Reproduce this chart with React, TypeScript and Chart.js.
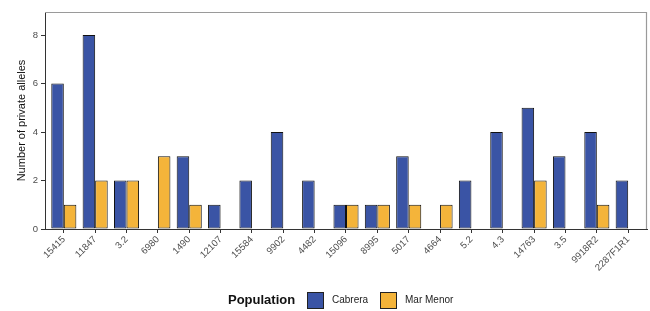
import React, { useEffect, useRef } from "react";
import { Chart, registerables } from "chart.js";

Chart.register(...registerables);

const categories = ["15415", "11847", "3.2", "6980", "1490", "12107", "15584", "9902", "4482", "15096", "8995", "5017", "4664", "5.2", "4.3", "14763", "3.5", "9918R2", "2287F1R1"];
const cabrera: (number | null)[] = [6, 8, 2, null, 3, 1, 2, 4, 2, 1, 1, 3, null, 2, 4, 5, 3, 4, 2];
const marMenor: (number | null)[] = [1, 2, 2, 3, 1, null, null, null, null, 1, 1, 1, 1, null, null, 2, null, 1, null];
const yTicks = [0, 2, 4, 6, 8];

const BLUE = "#3A54A5";
const ORANGE = "#F4B43A";
const FONT = "'Liberation Sans', Arial, sans-serif";

const framePlugin = {
  id: "frameAndLegend",
  afterDraw(chart: any) {
    const { ctx, chartArea } = chart;
    ctx.save();
    // gray top & right border
    ctx.strokeStyle = "#9a9a9a";
    ctx.lineWidth = 1.2;
    ctx.beginPath();
    ctx.moveTo(chartArea.left, chartArea.top + 0.5);
    ctx.lineTo(chartArea.right - 0.5, chartArea.top + 0.5);
    ctx.lineTo(chartArea.right - 0.5, chartArea.bottom);
    ctx.stroke();
    // y title
    ctx.fillStyle = "#111";
    ctx.font = `11px ${FONT}`;
    ctx.textAlign = "center";
    ctx.textBaseline = "middle";
    ctx.translate(22, (chartArea.top + chartArea.bottom) / 2);
    ctx.rotate(-Math.PI / 2);
    ctx.fillText("Number of private alleles", 0, 0);
    ctx.restore();

    // legend
    ctx.save();
    const cy = 300;
    ctx.textBaseline = "middle";
    ctx.textAlign = "left";
    ctx.fillStyle = "#111";
    ctx.font = `bold 13px ${FONT}`;
    ctx.fillText("Population", 228, cy);
    const items = [
      { label: "Cabrera", color: BLUE, x: 307 },
      { label: "Mar Menor", color: ORANGE, x: 380 },
    ];
    for (const it of items) {
      ctx.fillStyle = it.color;
      ctx.fillRect(it.x, cy - 8, 17, 17);
      ctx.strokeStyle = "#222";
      ctx.lineWidth = 1;
      ctx.strokeRect(it.x + 0.5, cy - 7.5, 16, 16);
      ctx.fillStyle = "#222";
      ctx.font = `10px ${FONT}`;
      ctx.fillText(it.label, it.x + 25, cy + 0.5);
    }
    ctx.restore();
  },
};

export default function App() {
  const ref = useRef<HTMLCanvasElement | null>(null);

  useEffect(() => {
    if (!ref.current) return;
    const toPts = (arr: (number | null)[]) => arr.map((v, i) => ({ x: i, y: v }));
    const chart = new Chart(ref.current, {
      type: "bar",
      data: {
        datasets: [
          {
            label: "Cabrera",
            data: toPts(cabrera) as any,
            backgroundColor: BLUE,
            borderColor: "#111",
            borderWidth: 1,
            borderSkipped: false,
            categoryPercentage: 0.8,
            barPercentage: 1,
          },
          {
            label: "Mar Menor",
            data: toPts(marMenor) as any,
            backgroundColor: ORANGE,
            borderColor: "#111",
            borderWidth: 1,
            borderSkipped: false,
            categoryPercentage: 0.8,
            barPercentage: 1,
          },
        ],
      },
      options: {
        responsive: false,
        animation: false,
        maintainAspectRatio: false,
        layout: { padding: { top: 12, right: 3, bottom: 0, left: 0 } },
        plugins: { legend: { display: false }, tooltip: { enabled: false } },
        scales: {
          x: {
            type: "linear",
            offset: false,
            min: -0.6,
            max: categories.length - 1 + 0.6,
            afterFit: (s: any) => { s.height = 82; },
            afterBuildTicks: (s: any) => {
              s.ticks = categories.map((_, i) => ({ value: i }));
            },
            border: { display: true, color: "#333", width: 1 },
            grid: { display: true, offset: false, drawOnChartArea: false, drawTicks: true, tickLength: 4, color: "#333" },
            ticks: {
              autoSkip: false,
              maxRotation: 45,
              minRotation: 45,
              padding: 1,
              color: "#4d4d4d",
              font: { family: FONT, size: 9.5 },
              callback: (v: any) => categories[v as number] ?? "",
            },
          },
          y: {
            type: "linear",
            min: 0,
            max: 8.95,
            afterFit: (s: any) => { s.width = 45; },
            afterBuildTicks: (s: any) => {
              s.ticks = yTicks.map((v) => ({ value: v }));
            },
            border: { display: true, color: "#333", width: 1 },
            grid: { display: true, drawOnChartArea: false, drawTicks: true, tickLength: 4, color: "#333" },
            ticks: {
              padding: 3,
              color: "#4d4d4d",
              font: { family: FONT, size: 9.5 },
            },
          },
        },
      },
      plugins: [framePlugin],
    });
    return () => chart.destroy();
  }, []);

  return (
    <div style={{ position: "absolute", left: 0, top: 0, width: 650, height: 311, background: "#fff" }}>
      <canvas ref={ref} width={650} height={311} style={{ width: 650, height: 311 }} />
    </div>
  );
}
